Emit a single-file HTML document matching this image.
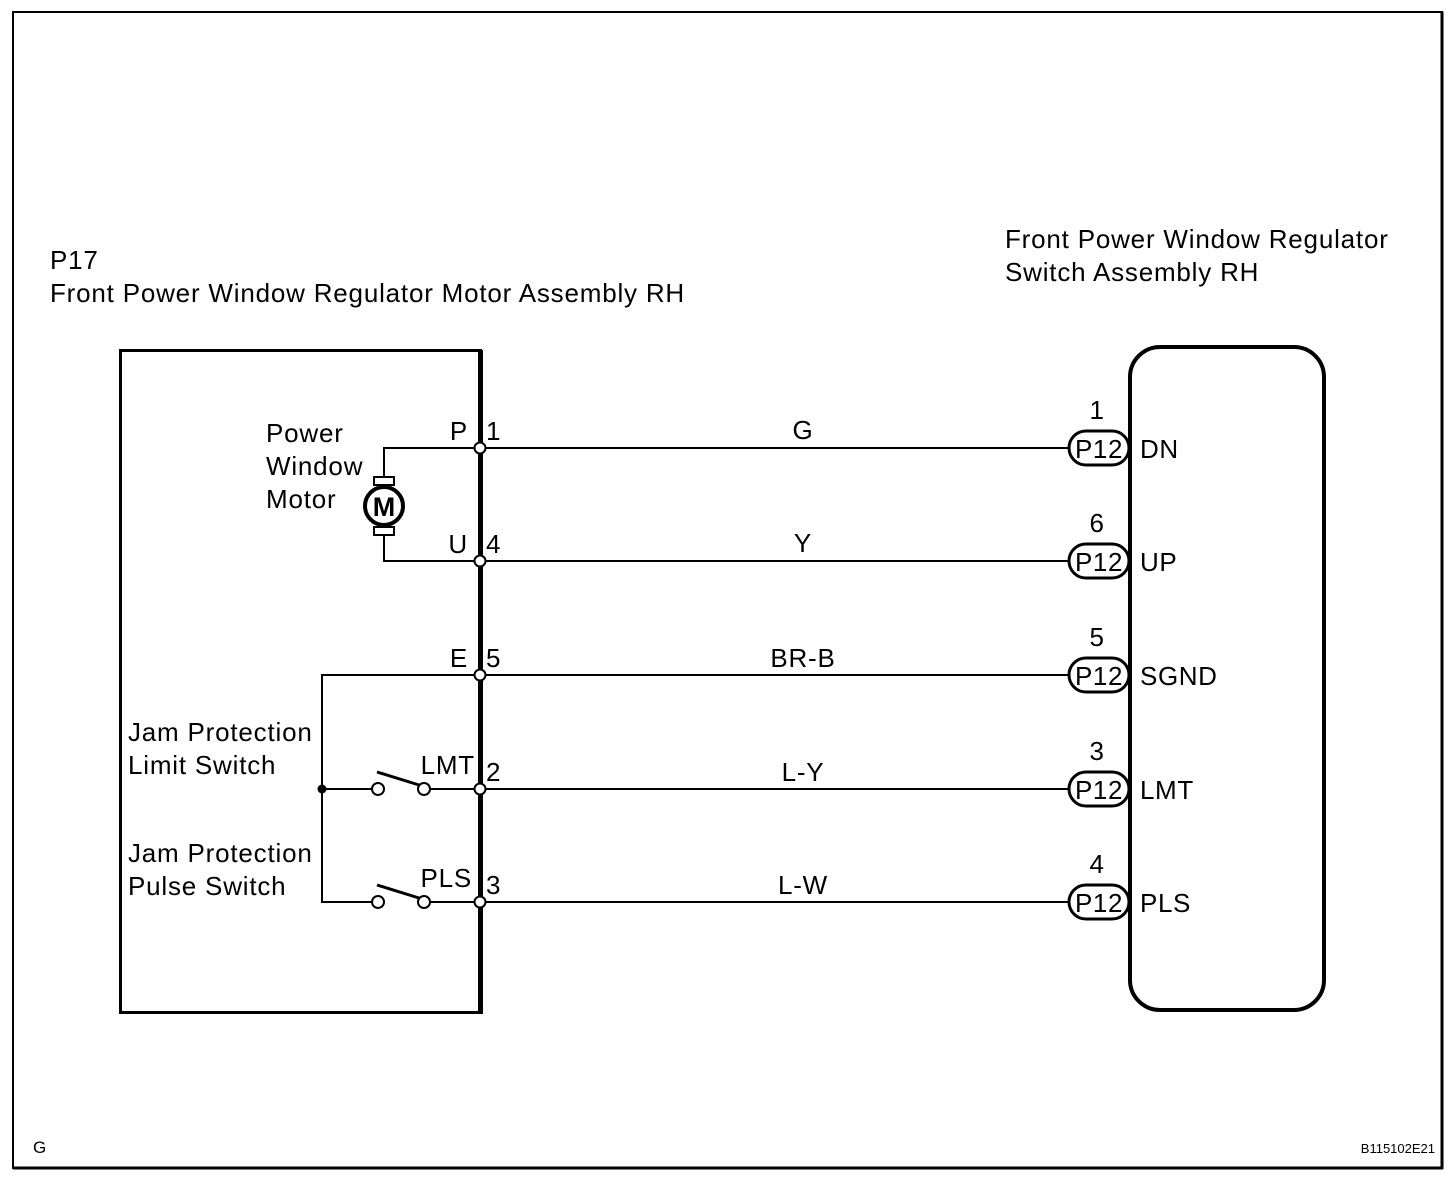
<!DOCTYPE html>
<html><head><style>html,body{margin:0;padding:0;background:#fff}svg{display:block}</style></head><body>
<svg width="1456" height="1180" viewBox="0 0 1456 1180" xmlns="http://www.w3.org/2000/svg" font-family="Liberation Sans, sans-serif" fill="#000">
<rect x="13" y="12" width="1429" height="1156" fill="none" stroke="#000" stroke-width="2"/>
<line x1="13" y1="1168" x2="1443" y2="1168" stroke="#000" stroke-width="3"/>
<line x1="1442" y1="12" x2="1442" y2="1169" stroke="#000" stroke-width="3"/>
<g font-size="26" letter-spacing="0.8">
<text x="50" y="269">P17</text>
<text x="50" y="302">Front Power Window Regulator Motor Assembly RH</text>
<text x="1005" y="248">Front Power Window Regulator</text>
<text x="1005" y="281">Switch Assembly RH</text>
<text x="266" y="442">Power</text>
<text x="266" y="475">Window</text>
<text x="266" y="508">Motor</text>
<text x="128" y="741">Jam Protection</text>
<text x="128" y="774">Limit Switch</text>
<text x="128" y="862">Jam Protection</text>
<text x="128" y="895">Pulse Switch</text>
</g>
<rect x="120.5" y="350.5" width="360" height="662" fill="none" stroke="#000" stroke-width="3"/>
<line x1="480.5" y1="350" x2="480.5" y2="1014" stroke="#000" stroke-width="5"/>
<rect x="1130" y="347" width="194" height="663" rx="30" fill="none" stroke="#000" stroke-width="4"/>
<g stroke="#000" stroke-width="2" fill="none">
<polyline points="480,448 384,448 384,478"/>
<polyline points="480,561 384,561 384,534"/>
<rect x="374" y="477" width="20" height="8"/>
<rect x="374" y="527" width="20" height="8"/>
<polyline points="480,675 322,675 322,902 372,902"/>
<line x1="322" y1="789" x2="372" y2="789"/>
<line x1="430" y1="789" x2="480" y2="789"/>
<line x1="430" y1="902" x2="480" y2="902"/>
<line x1="480" y1="448" x2="1068" y2="448"/>
<line x1="480" y1="561" x2="1068" y2="561"/>
<line x1="480" y1="675" x2="1068" y2="675"/>
<line x1="480" y1="789" x2="1068" y2="789"/>
<line x1="480" y1="902" x2="1068" y2="902"/>
</g>
<g stroke="#000" stroke-width="3">
<line x1="377" y1="772" x2="419" y2="785"/>
<line x1="377" y1="885" x2="419" y2="898"/>
</g>
<circle cx="384" cy="506" r="19" fill="#fff" stroke="#000" stroke-width="4"/>
<text x="384" y="516" font-size="27" font-weight="bold" text-anchor="middle">M</text>
<circle cx="322" cy="789" r="4.5"/>
<g fill="#fff" stroke="#000" stroke-width="2">
<circle cx="378" cy="789" r="6"/><circle cx="424" cy="789" r="6"/>
<circle cx="378" cy="902" r="6"/><circle cx="424" cy="902" r="6"/>
<circle cx="480" cy="448" r="5.5"/><circle cx="480" cy="561" r="5.5"/><circle cx="480" cy="675" r="5.5"/><circle cx="480" cy="789" r="5.5"/><circle cx="480" cy="902" r="5.5"/>
</g>
<g font-size="26" letter-spacing="0.8">
<text x="468" y="440" text-anchor="end">P</text><text x="486" y="440">1</text>
<text x="468" y="553" text-anchor="end">U</text><text x="486" y="553">4</text>
<text x="468" y="667" text-anchor="end">E</text><text x="486" y="667">5</text>
<text x="475" y="774" text-anchor="end">LMT</text><text x="486" y="781">2</text>
<text x="472" y="887" text-anchor="end">PLS</text><text x="486" y="894">3</text>
<text x="803" y="439" text-anchor="middle">G</text>
<text x="803" y="552" text-anchor="middle">Y</text>
<text x="803" y="667" text-anchor="middle">BR-B</text>
<text x="803" y="781" text-anchor="middle">L-Y</text>
<text x="803" y="894" text-anchor="middle">L-W</text>
</g>
<g font-size="26" letter-spacing="0.6">
<g transform="translate(0,448)"><rect x="1069" y="-17" width="60" height="34" rx="17" fill="#fff" stroke="#000" stroke-width="3"/><text x="1099" y="10" text-anchor="middle">P12</text><text x="1097" y="-29" text-anchor="middle">1</text><text x="1140" y="10">DN</text></g>
<g transform="translate(0,561)"><rect x="1069" y="-17" width="60" height="34" rx="17" fill="#fff" stroke="#000" stroke-width="3"/><text x="1099" y="10" text-anchor="middle">P12</text><text x="1097" y="-29" text-anchor="middle">6</text><text x="1140" y="10">UP</text></g>
<g transform="translate(0,675)"><rect x="1069" y="-17" width="60" height="34" rx="17" fill="#fff" stroke="#000" stroke-width="3"/><text x="1099" y="10" text-anchor="middle">P12</text><text x="1097" y="-29" text-anchor="middle">5</text><text x="1140" y="10">SGND</text></g>
<g transform="translate(0,789)"><rect x="1069" y="-17" width="60" height="34" rx="17" fill="#fff" stroke="#000" stroke-width="3"/><text x="1099" y="10" text-anchor="middle">P12</text><text x="1097" y="-29" text-anchor="middle">3</text><text x="1140" y="10">LMT</text></g>
<g transform="translate(0,902)"><rect x="1069" y="-17" width="60" height="34" rx="17" fill="#fff" stroke="#000" stroke-width="3"/><text x="1099" y="10" text-anchor="middle">P12</text><text x="1097" y="-29" text-anchor="middle">4</text><text x="1140" y="10">PLS</text></g>
</g>
<text x="33" y="1153" font-size="17">G</text>
<text x="1435" y="1153" font-size="13" text-anchor="end">B115102E21</text>
</svg>
</body></html>
